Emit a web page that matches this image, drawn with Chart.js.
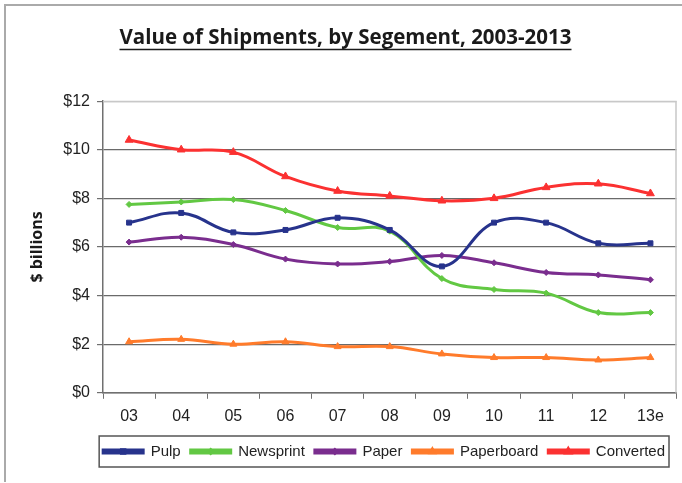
<!DOCTYPE html>
<html>
<head>
<meta charset="utf-8">
<script src="https://cdn.jsdelivr.net/npm/chart.js@4/dist/chart.umd.min.js"></script>
<style>
  html, body { margin: 0; padding: 0; background: #fff; }
  #wrap { width: 682px; height: 483px; }
</style>
</head>
<body>
<div id="wrap"><canvas id="shipChart" width="682" height="483"></canvas></div>
<script>
const years = ['03', '04', '05', '06', '07', '08', '09', '10', '11', '12', '13e'];
const pulp = [7.0, 7.4, 6.6, 6.7, 7.2, 6.7, 5.2, 7.0, 7.0, 6.15, 6.15];
const newsprint = [7.75, 7.85, 7.95, 7.5, 6.8, 6.65, 4.7, 4.25, 4.1, 3.3, 3.3];
const paper = [6.2, 6.4, 6.1, 5.5, 5.3, 5.4, 5.65, 5.35, 4.95, 4.85, 4.65];
const paperboard = [2.1, 2.2, 2.0, 2.1, 1.9, 1.9, 1.6, 1.45, 1.45, 1.35, 1.45];
const converted = [10.4, 10.0, 9.9, 8.9, 8.3, 8.1, 7.9, 8.0, 8.45, 8.6, 8.2];
const yTicks = [0, 2, 4, 6, 8, 10, 12];

const textFont = '"Liberation Sans", Arial, sans-serif';
const boldFont = '"Open Sans", "Noto Sans", sans-serif';
const titleSize = 20.5;

const makeSeries = (label, data, color, pointStyle, radius) => ({
    label, data,
    borderColor: color,
    backgroundColor: color,
    borderWidth: 3,
    tension: 0.4,
    pointStyle,
    pointRadius: radius,
    pointBorderWidth: 1,
    pointHoverRadius: radius
});

// frame, plot border, title underline, legend box + markers
const decorations = {
    id: 'decorations',
    afterLayout(chart) {
        // nudge title right and legend left like the original
        const t = chart.titleBlock;
        if (t) {
            t.left += 5;
            t.right += 5;
        }
        const lg = chart.legend;
        if (lg) {
            lg.left -= 6;
            lg.right -= 6;
        }
    },
    beforeDraw(chart) {
        const {ctx} = chart;
        ctx.save();
        ctx.strokeStyle = '#aaaaaa';
        ctx.lineWidth = 2;
        ctx.beginPath();
        ctx.moveTo(5, 482);
        ctx.lineTo(5, 5);
        ctx.lineTo(682, 5);
        ctx.stroke();
        ctx.restore();
    },
    beforeDatasetsDraw(chart) {
        const {ctx, chartArea: a} = chart;
        ctx.save();
        ctx.strokeStyle = '#c8c8c8';
        ctx.lineWidth = 1.5;
        ctx.beginPath();
        ctx.moveTo(a.left, a.top + 0.5);
        ctx.lineTo(a.right - 0.5, a.top + 0.5);
        ctx.lineTo(a.right - 0.5, a.bottom);
        ctx.stroke();
        ctx.restore();
    },
    afterDraw(chart) {
        const {ctx} = chart;
        const t = chart.titleBlock;
        if (t) {
            ctx.save();
            ctx.font = 'bold ' + titleSize + 'px ' + boldFont;
            const w = ctx.measureText(chart.options.plugins.title.text).width;
            const cx = (t.left + t.right) / 2;
            const y = t.top + t.options.padding.top + titleSize * 1.2 - 1;
            ctx.strokeStyle = '#1a1a1a';
            ctx.lineWidth = 1.5;
            ctx.beginPath();
            ctx.moveTo(cx - w / 2, y);
            ctx.lineTo(cx + w / 2, y);
            ctx.stroke();
            ctx.restore();
        }
        const lg = chart.legend;
        if (lg && lg.legendHitBoxes && lg.legendHitBoxes.length) {
            const boxes = lg.legendHitBoxes;
            const x0 = Math.min(...boxes.map(b => b.left)) - 4;
            const x1 = Math.max(...boxes.map(b => b.left + b.width)) + 4;
            const yc = boxes[0].top + boxes[0].height / 2;
            ctx.save();
            ctx.strokeStyle = '#555';
            ctx.lineWidth = 1.5;
            ctx.strokeRect(x0, yc - 15.5, x1 - x0, 31);
            chart.data.datasets.forEach((ds, i) => {
                const b = boxes[i];
                const bw = lg.options.labels.boxWidth;
                ctx.fillStyle = ds.borderColor;
                ctx.strokeStyle = ds.borderColor;
                Chart.helpers.drawPoint(ctx, {
                    pointStyle: ds.pointStyle,
                    radius: ds.pointRadius,
                    borderWidth: 1,
                    rotation: 0
                }, b.left + bw / 2, yc);
            });
            ctx.restore();
        }
    }
};

new Chart(document.getElementById('shipChart'), {
    type: 'line',
    data: {
        labels: years,
        datasets: [
            makeSeries('Pulp', pulp, '#27338c', 'rect', 3.5),
            makeSeries('Newsprint', newsprint, '#62c843', 'rectRot', 3),
            makeSeries('Paper', paper, '#7a2d8e', 'rectRot', 3),
            makeSeries('Paperboard', paperboard, '#ff7b2b', 'triangle', 4),
            makeSeries('Converted', converted, '#fb3131', 'triangle', 4.5)
        ]
    },
    options: {
        responsive: false,
        animation: false,
        events: [],
        layout: {padding: {left: 0, right: 1, top: 0, bottom: 14}},
        scales: {
            x: {
                type: 'category',
                offset: true,
                grid: {
                    offset: true,
                    drawOnChartArea: false,
                    drawTicks: true,
                    tickLength: 6,
                    color: '#707070'
                },
                border: {color: '#707070', width: 1.5},
                ticks: {
                    color: '#222',
                    padding: 8,
                    maxRotation: 0,
                    font: {family: textFont, size: 16}
                }
            },
            y: {
                min: 0,
                max: 12,
                afterBuildTicks: axis => {
                    axis.ticks = yTicks.map(v => ({value: v}));
                },
                afterFit: axis => {
                    axis.width = 103;
                },
                grid: {
                    color: ctx => ctx.tick && ctx.tick.value === 12 ? '#c8c8c8' : '#6a6a6a',
                    lineWidth: 1.2,
                    tickLength: 6,
                    tickColor: '#707070'
                },
                border: {color: '#707070', width: 1.5},
                ticks: {
                    color: '#222',
                    padding: 7,
                    font: {family: textFont, size: 16},
                    callback: v => '$' + v
                },
                title: {
                    display: true,
                    text: '$ billions',
                    color: '#1a1a1a',
                    font: {family: boldFont, size: 16, weight: 'bold'},
                    padding: {top: 28, bottom: 0}
                }
            }
        },
        plugins: {
            title: {
                display: true,
                text: 'Value of Shipments, by Segement, 2003-2013',
                color: '#1a1a1a',
                font: {family: boldFont, size: titleSize, weight: 'bold'},
                padding: {top: 26, bottom: 50.5}
            },
            legend: {
                position: 'bottom',
                align: 'end',
                labels: {
                    color: '#222',
                    boxWidth: 40,
                    boxHeight: 3,
                    padding: 10,
                    font: {family: textFont, size: 15}
                }
            },
            tooltip: {enabled: false}
        }
    },
    plugins: [decorations]
});
</script>
</body>
</html>
